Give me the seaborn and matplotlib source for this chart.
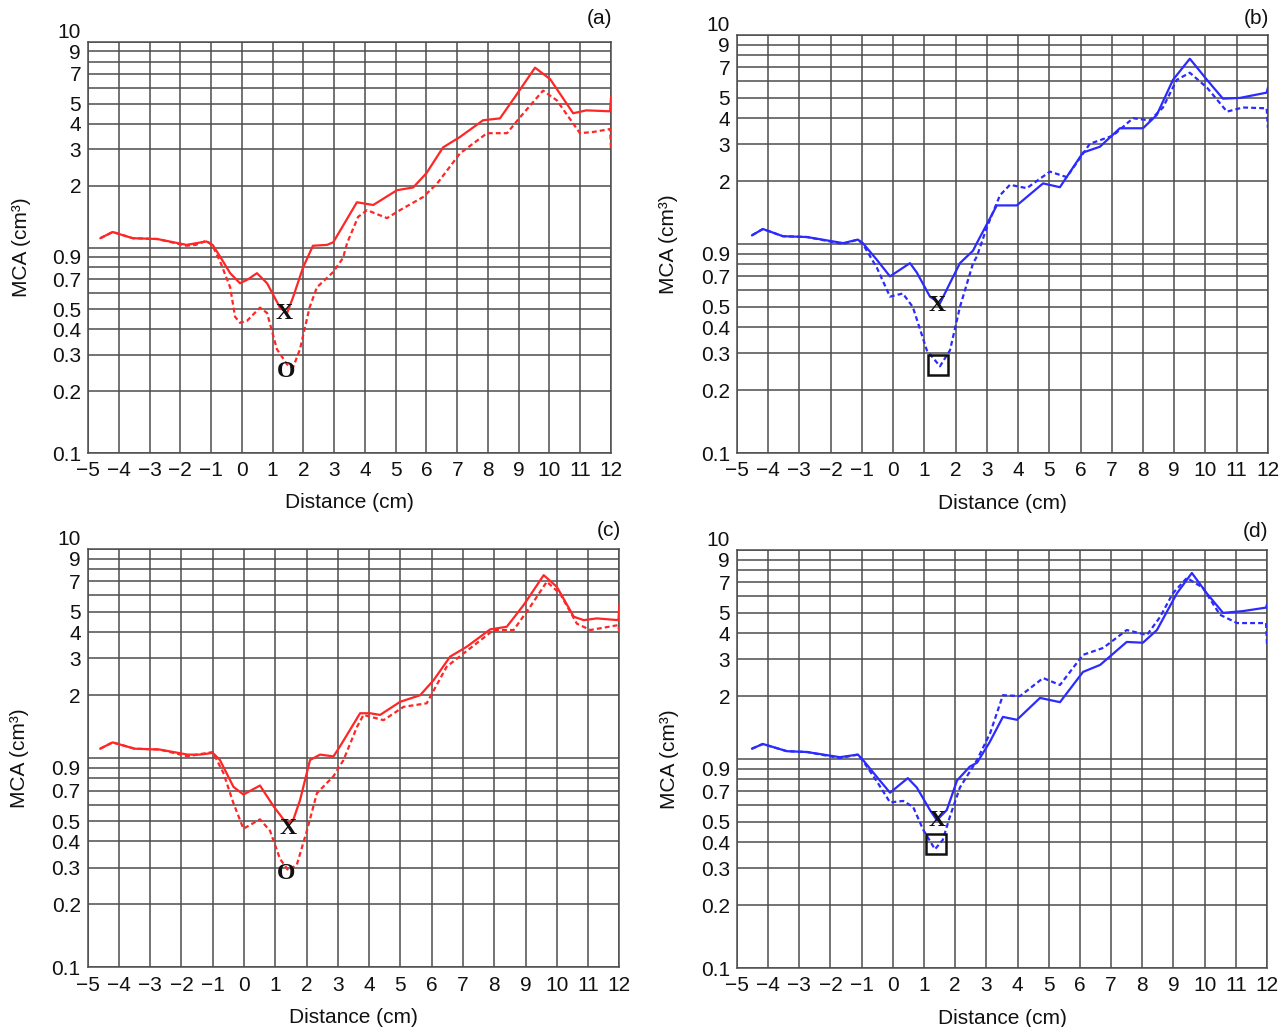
import matplotlib
matplotlib.use('Agg')
import matplotlib.pyplot as plt
import seaborn as sns
import pandas as pd

# ---- panel (a), red ----
a_x_solid = [-4.6, -4.2, -3.55, -2.75, -1.8, -1.15, -0.95, -0.7, -0.38, -0.06, 0.2, 0.49, 0.82, 1.24,
             1.47, 1.66, 1.99, 2.31, 2.77, 2.97, 3.74, 4.27, 5.04, 5.57, 6.0, 6.54, 7.09, 7.84, 8.39,
             8.95, 9.53, 10.02, 10.77, 11.2, 11.97, 12.0]
a_y_solid = [1.11, 1.19, 1.11, 1.10, 1.03, 1.07, 1.03, 0.90, 0.75, 0.67, 0.70, 0.75, 0.67, 0.51,
             0.48, 0.57, 0.80, 1.02, 1.03, 1.06, 1.66, 1.61, 1.90, 1.96, 2.3, 3.07, 3.45, 4.16, 4.25,
             5.6, 7.5, 6.6, 4.5, 4.65, 4.6, 5.4]
a_x_dash = [-4.6, -4.2, -3.55, -2.75, -1.8, -1.5, -1.15, -0.95, -0.7, -0.38, -0.22, -0.06, 0.17, 0.59,
            0.82, 1.14, 1.47, 1.66, 1.89, 2.2, 2.44, 2.97, 3.29, 3.42, 3.78, 4.07, 4.72, 5.14, 5.89,
            6.35, 7.09, 7.97, 8.62, 9.04, 9.79, 10.24, 10.99, 11.42, 11.97, 12.0]
a_y_dash = [1.11, 1.19, 1.11, 1.10, 1.02, 1.03, 1.08, 1.02, 0.85, 0.64, 0.46, 0.43, 0.44, 0.51,
            0.48, 0.32, 0.27, 0.26, 0.32, 0.51, 0.64, 0.76, 0.89, 1.05, 1.41, 1.52, 1.39, 1.52, 1.76,
            2.05, 2.87, 3.6, 3.6, 4.3, 5.8, 5.2, 3.6, 3.65, 3.77, 3.0]

# ---- panel (b), blue ----
b_x_solid = [-4.52, -4.17, -3.53, -2.76, -1.6, -1.13, -0.97, -0.52, -0.1, 0.54, 0.76, 1.18, 1.5, 1.82,
             2.14, 2.56, 2.68, 3.32, 3.96, 4.8, 5.34, 6.08, 6.62, 7.26, 8.0, 8.44, 8.96, 9.5, 10.05,
             10.56, 11.1, 11.96, 12.0]
b_y_solid = [1.10, 1.18, 1.09, 1.08, 1.01, 1.05, 1.01, 0.84, 0.70, 0.81, 0.73, 0.56, 0.52, 0.65,
             0.81, 0.93, 1.01, 1.53, 1.53, 1.95, 1.87, 2.74, 2.92, 3.58, 3.58, 4.14, 6.1, 7.7, 6.1,
             4.96, 5.0, 5.3, 5.6]
b_x_dash = [-4.52, -4.17, -3.53, -2.76, -1.6, -1.13, -0.97, -0.52, -0.1, 0.31, 0.63, 1.08, 1.5, 1.82,
            2.14, 2.56, 2.68, 3.0, 3.42, 3.74, 4.28, 5.02, 5.56, 6.3, 7.04, 7.68, 8.22, 8.64, 9.08,
            9.5, 10.05, 10.69, 11.2, 11.96, 12.0]
b_y_dash = [1.10, 1.18, 1.09, 1.08, 1.00, 1.05, 1.00, 0.77, 0.56, 0.58, 0.50, 0.31, 0.26, 0.31,
            0.50, 0.81, 0.87, 1.2, 1.71, 1.92, 1.85, 2.22, 2.09, 3.02, 3.3, 4.0, 3.9, 4.5, 6.1,
            6.6, 5.6, 4.3, 4.5, 4.46, 3.6]

# ---- panel (c), red ----
c_x_solid = [-4.6, -4.2, -3.5, -2.7, -1.8, -1.41, -1.0, -0.77, -0.34, -0.02, 0.51, 0.94, 1.26, 1.42,
             1.58, 1.79, 2.11, 2.43, 2.86, 3.07, 3.71, 4.03, 4.35, 4.99, 5.63, 6.06, 6.59, 7.12, 7.87,
             8.4, 8.94, 9.58, 10.0, 10.54, 10.86, 11.28, 11.97, 12.0]
c_y_solid = [1.11, 1.19, 1.11, 1.10, 1.04, 1.04, 1.06, 0.98, 0.73, 0.67, 0.74, 0.59, 0.51, 0.49,
             0.51, 0.63, 0.98, 1.04, 1.02, 1.14, 1.64, 1.64, 1.61, 1.86, 2.0, 2.36, 3.06, 3.41, 4.13,
             4.25, 5.4, 7.5, 6.6, 4.75, 4.57, 4.66, 4.57, 5.4]
c_x_dash = [-4.6, -4.2, -3.5, -2.7, -1.8, -1.5, -1.0, -0.66, -0.34, -0.02, 0.51, 0.83, 1.15, 1.42,
            1.69, 2.01, 2.33, 2.86, 3.18, 3.61, 3.82, 4.46, 5.1, 5.84, 6.48, 7.02, 7.98, 8.62, 9.15,
            9.68, 10.11, 10.64, 11.07, 11.97, 12.0]
c_y_dash = [1.11, 1.19, 1.11, 1.10, 1.02, 1.04, 1.07, 0.85, 0.61, 0.46, 0.51, 0.45, 0.33, 0.29,
            0.31, 0.45, 0.68, 0.82, 0.98, 1.41, 1.61, 1.52, 1.76, 1.83, 2.74, 3.17, 4.1, 4.1, 5.3,
            6.98, 6.1, 4.4, 4.1, 4.33, 3.9]

# ---- panel (d), blue ----
d_x_solid = [-4.52, -4.17, -3.4, -2.75, -1.7, -1.12, -0.96, -0.51, -0.09, 0.48, 0.77, 1.19, 1.41, 1.73,
             2.06, 2.47, 2.7, 3.1, 3.53, 3.98, 4.72, 5.36, 6.1, 6.65, 7.5, 8.02, 8.47, 9.11, 9.59,
             10.07, 10.59, 11.23, 11.97, 12.0]
d_y_solid = [1.12, 1.18, 1.09, 1.08, 1.02, 1.05, 0.99, 0.82, 0.69, 0.81, 0.73, 0.57, 0.51, 0.57,
             0.79, 0.92, 0.96, 1.2, 1.59, 1.54, 1.96, 1.87, 2.61, 2.82, 3.63, 3.6, 4.14, 6.2, 7.76,
             6.2, 5.0, 5.1, 5.3, 5.5]
d_x_dash = [-4.52, -4.17, -3.4, -2.75, -1.7, -1.12, -0.96, -0.51, -0.09, 0.33, 0.65, 0.97, 1.35, 1.6,
            1.83, 2.15, 2.57, 2.7, 3.12, 3.53, 4.08, 4.82, 5.36, 6.1, 6.75, 7.5, 8.15, 8.57, 8.98,
            9.43, 9.94, 10.49, 11.04, 11.97, 12.0]
d_y_dash = [1.12, 1.18, 1.09, 1.08, 1.01, 1.05, 0.98, 0.78, 0.62, 0.63, 0.59, 0.46, 0.37, 0.41,
            0.53, 0.73, 0.92, 0.99, 1.33, 2.02, 2.0, 2.44, 2.26, 3.15, 3.4, 4.14, 3.92, 4.78, 6.2,
            7.35, 6.6, 4.9, 4.47, 4.47, 3.5]

# point marks: (letter, x, y)
a_marks = [('X', 1.36, 0.48), ('O', 1.44, 0.25)]
b_marks = [('X', 1.40, 0.51)]
c_marks = [('X', 1.42, 0.46), ('O', 1.35, 0.28)]
d_marks = [('X', 1.41, 0.51)]
b_square = ([1.43], [0.264])
d_square = ([1.38], [0.392])

y_ticks = [0.1, 0.2, 0.3, 0.4, 0.5, 0.6, 0.7, 0.8, 0.9, 1, 2, 3, 4, 5, 6, 7, 8, 9, 10]
y_labels = ['0.1', '0.2', '0.3', '0.4', '0.5', '', '0.7', '', '0.9', '', '2', '3', '4', '5', '',
            '7', '', '9', '10']
x_ticks = list(range(-5, 13))

sns.set_style('white')
plt.rcParams['font.family'] = ['Liberation Sans', 'DejaVu Sans']

RED = '#ff2626'
BLUE = '#2b2bff'
GRID = '#4d4d4d'
INK = '#111111'

fig = plt.figure(figsize=(12.85, 10.27), dpi=100)
ax_a = fig.add_axes([0.0685, 0.5589, 0.4070, 0.4002])
ax_b = fig.add_axes([0.5735, 0.5589, 0.4132, 0.4070])
ax_c = fig.add_axes([0.0682, 0.0581, 0.4138, 0.4073])
ax_d = fig.add_axes([0.5735, 0.0574, 0.4125, 0.4071])


def draw(ax, xs, ys, xd, yd, color, tag, tag_dy, marks, square=None):
    df = pd.concat([
        pd.DataFrame({'dist': xs, 'mca': ys, 'kind': 'solid'}),
        pd.DataFrame({'dist': xd, 'mca': yd, 'kind': 'dashed'}),
    ])
    sns.lineplot(data=df, x='dist', y='mca', style='kind', color=color, sort=False,
                 estimator=None, dashes={'solid': '', 'dashed': (2.2, 1.4)},
                 linewidth=1.6, legend=False, ax=ax, zorder=3)
    ax.set_yscale('log')
    ax.set_xlim(-5, 12)
    ax.set_ylim(0.1, 10)
    ax.set_yticks(y_ticks)
    ax.set_yticklabels(y_labels)
    ax.minorticks_off()
    ax.set_xticks(x_ticks)
    ax.set_xticklabels([str(t).replace('-', '\u2212') for t in x_ticks])
    ax.tick_params(length=0, labelsize=15, colors=INK)
    ax.tick_params(axis='y', pad=5)
    ax.tick_params(axis='x', pad=6)
    # "10" sits just above the top grid line so it clears the "9"
    ax.get_yticklabels()[-1].set_va('bottom')
    ax.grid(True, color=GRID, linewidth=1.1)
    for s in ax.spines.values():
        s.set_color(GRID)
        s.set_linewidth(1.1)
    ax.set_xlabel('Distance (cm)', fontsize=15, color=INK)
    ax.set_ylabel('MCA (cm\u00b3)', fontsize=15, color=INK)
    ax.xaxis.set_label_coords(0.5, -0.12)
    ax.yaxis.set_label_coords(-0.128, 0.5)
    ax.xaxis.label.set_va('center')
    ax.yaxis.label.set_va('center')
    ax.annotate(tag, xy=(1, 1), xycoords='axes fraction', xytext=(1, tag_dy),
                textcoords='offset points', ha='right', va='center', fontsize=15, color=INK)
    for txt, mx, my in marks:
        ax.text(mx, my, txt, ha='center', va='center', fontsize=17, fontweight='bold',
                family='Liberation Serif', color=INK, zorder=4)
    if square is not None:
        ax.plot(square[0], square[1], marker='s', markersize=15, markerfacecolor='none',
                markeredgecolor=INK, markeredgewidth=1.8, linestyle='none', zorder=4)


draw(ax_a, a_x_solid, a_y_solid, a_x_dash, a_y_dash, RED, '(a)', 17, a_marks)
draw(ax_b, b_x_solid, b_y_solid, b_x_dash, b_y_dash, BLUE, '(b)', 12, b_marks, b_square)
draw(ax_c, c_x_solid, c_y_solid, c_x_dash, c_y_dash, RED, '(c)', 13, c_marks)
draw(ax_d, d_x_solid, d_y_solid, d_x_dash, d_y_dash, BLUE, '(d)', 13.5, d_marks, d_square)

fig.savefig('out.png', dpi=100, facecolor='white')
